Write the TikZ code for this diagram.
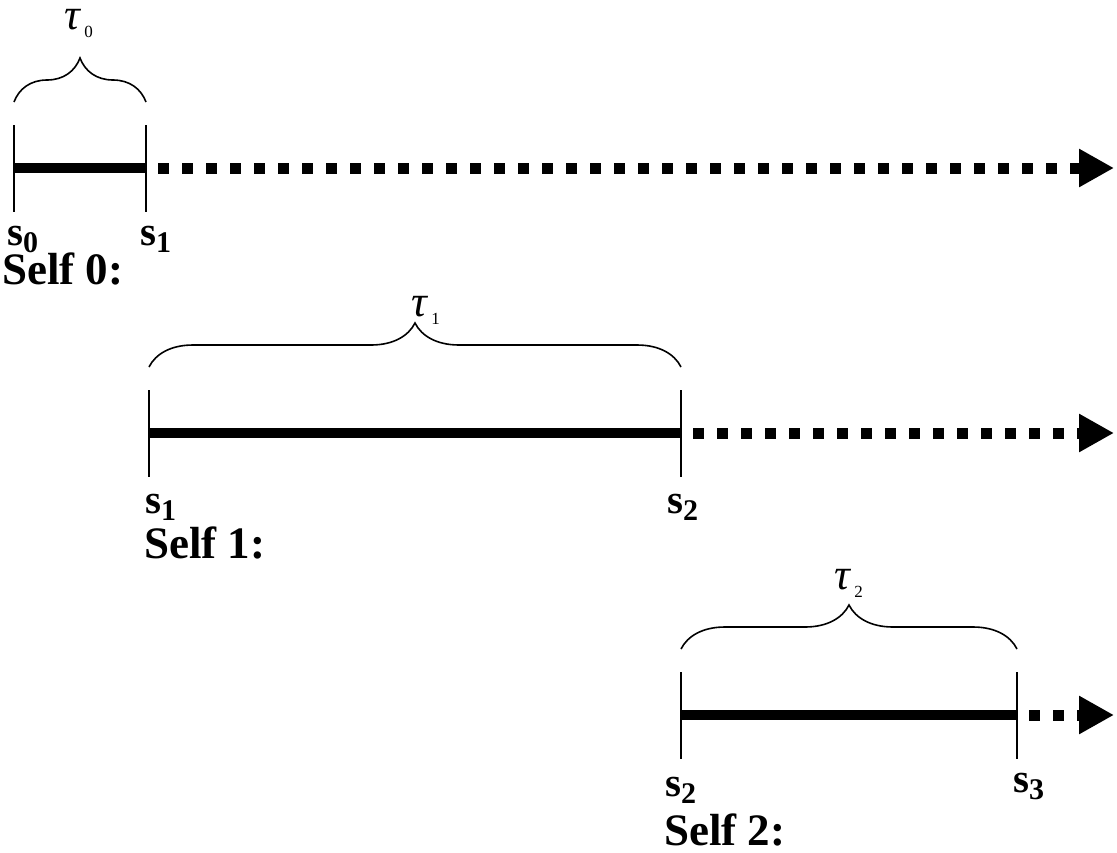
\documentclass[tikz,border=0pt]{standalone}
\usepackage{fontspec}
\setmainfont{Liberation Serif}
\usetikzlibrary{arrows.meta,decorations.pathreplacing}
% Zeitpunkte s_n und Planungshorizont tau_n
\newcommand{\spt}[1]{s\raisebox{-7pt}{\fontsize{30}{30}\selectfont #1}}
\newcommand{\hz}[1]{\textit{\fontsize{44}{44}\selectfont τ}\hspace{3pt}\raisebox{-8pt}{\fontsize{17}{17}\selectfont #1}}

\begin{document}
\begin{tikzpicture}[x=1pt, y=-1pt,
			tick/.style={line width=2pt},
			bar/.style={line width=10pt},
			dots/.style={line width=11pt, dash pattern=on 11pt off 13pt, -{Triangle[length=35pt,width=36pt]}},
			span/.style={decorate, decoration={brace, amplitude=44pt}, line width=1.6pt},
			lab/.style={inner sep=0pt, anchor=base west, font=\fontsize{41}{41}\selectfont\bfseries},
			self/.style={inner sep=0pt, anchor=base west, font=\fontsize{45}{45}\selectfont\bfseries},
			tau/.style={inner sep=0pt, anchor=base west}]
	\useasboundingbox (0,0) rectangle (1117,852);
	% Zeitachsen der drei Selbst
	\foreach \xa/\xb/\y/\n in {14/146/168/0, 149/681/433/1, 681/1017/715/2} {
		\coordinate (l\n) at (\xa,\y);
		\coordinate (r\n) at (\xb,\y);
		\coordinate (e\n) at (1114,\y);
		\draw[tick] (\xa,\y-43) -- (\xa,\y+44);
		\draw[tick] (\xb,\y-43) -- (\xb,\y+44);
		\draw[bar] (l\n) -- (r\n);
		\draw[dots] ([xshift=12pt]r\n) -- (e\n);
		\draw[span] (\xa,\y-66) -- (\xb,\y-66);
	}
	% Beschriftung
	\node[tau] (t0) at (64,29) {\hz{0}};
	\node[tau] (t1) at (411,316) {\hz{1}};
	\node[tau] (t2) at (834,589) {\hz{2}};
	\node[lab] (s00) at (7,245) {\spt{0}};
	\node[lab] (s01) at (140,245) {\spt{1}};
	\node[lab] (s11) at (145,513) {\spt{1}};
	\node[lab] (s12) at (667,513) {\spt{2}};
	\node[lab] (s22) at (665,796) {\spt{2}};
	\node[lab] (s23) at (1013,792) {\spt{3}};
	\node[self] (self0) at (2,284) {Self 0:};
	\node[self] (self1) at (144,558) {Self 1:};
	\node[self] (self2) at (664,845) {Self 2:};
\end{tikzpicture}
\end{document}
